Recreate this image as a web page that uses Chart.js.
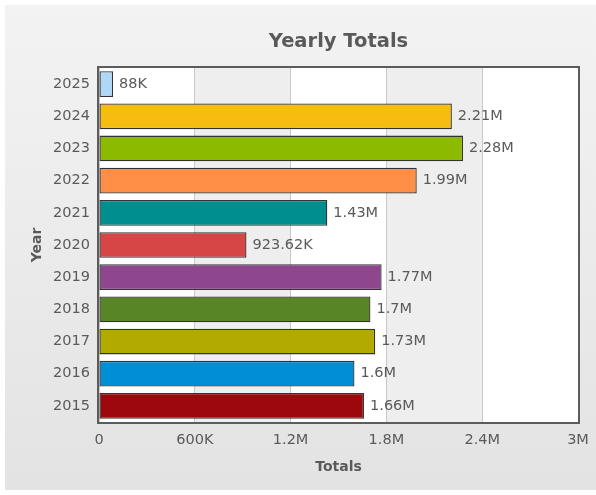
<!DOCTYPE html>
<html>
<head>
<meta charset="utf-8">
<script src="https://cdn.jsdelivr.net/npm/chart.js@4.4.1/dist/chart.umd.min.js"></script>
<style>
  html, body { margin: 0; padding: 0; background: #fff; }
  #wrap {
    position: absolute; left: 5px; top: 5px; width: 591px; height: 485px;
    background: linear-gradient(#f3f3f3, #e3e3e3);
  }
</style>
</head>
<body>
<div id="wrap"><canvas id="myChart"></canvas></div>
<script>
// data
const years = ["2025", "2024", "2023", "2022", "2021", "2020", "2019", "2018", "2017", "2016", "2015"];
const totals = [88000, 2210000, 2280000, 1990000, 1430000, 923620, 1770000, 1700000, 1730000, 1600000, 1660000];
const barColors = ["#AFD8F8", "#F6BD0F", "#8BBA00", "#FF8E46", "#008E8E", "#D64646",
                   "#8E468E", "#588526", "#B3AA00", "#008ED6", "#9D080D"];
const chartTitle = "Yearly Totals";
const xTitle = "Totals";
const yTitle = "Year";

const FONT = "'DejaVu Sans', Verdana, sans-serif";
const TEXT = "#5a5a5a";

function fmt(v) {
  if (v >= 1e6) return +(v / 1e6).toFixed(2) + "M";
  if (v >= 1e3) return +(v / 1e3).toFixed(2) + "K";
  return String(v);
}

// alternating column bands + frame + title + value labels
const decor = {
  id: "decor",
  beforeDraw(chart) {
    const { ctx, chartArea: a, scales: { x } } = chart;
    ctx.save();
    ctx.fillStyle = "#ffffff";
    ctx.fillRect(a.left, a.top, a.right - a.left, a.bottom - a.top);
    ctx.fillStyle = "#eeeeee";
    for (let i = 0; i < x.ticks.length - 1; i++) {
      if (i % 2 === 1) {
        const x0 = x.getPixelForValue(x.ticks[i].value);
        const x1 = x.getPixelForValue(x.ticks[i + 1].value);
        ctx.fillRect(x0, a.top, x1 - x0, a.bottom - a.top);
      }
    }
    ctx.restore();
  },
  afterDatasetsDraw(chart) {
    const { ctx, chartArea: a } = chart;
    ctx.save();
    ctx.font = "14.5px " + FONT;
    ctx.fillStyle = TEXT;
    ctx.textAlign = "left";
    ctx.textBaseline = "middle";
    chart.getDatasetMeta(0).data.forEach((bar, i) => {
      ctx.fillText(fmt(totals[i]), bar.x + 6, bar.y);
    });
    ctx.strokeStyle = "#5c5c5c";
    ctx.lineWidth = 2;
    ctx.strokeRect(a.left - 1, a.top - 1, a.right - a.left + 2, a.bottom - a.top + 2);
    ctx.font = "bold 19.5px " + FONT;
    ctx.textAlign = "center";
    ctx.fillText(chartTitle, (a.left + a.right) / 2, 37);
    ctx.restore();
  }
};

new Chart("myChart", {
  type: "bar",
  data: {
    labels: years,
    datasets: [{
      data: totals,
      backgroundColor: barColors,
      borderColor: "#333333",
      borderWidth: 1.3,
      borderSkipped: false,
      barPercentage: 0.8,
      categoryPercentage: 1
    }]
  },
  options: {
    indexAxis: "y",
    responsive: true,
    maintainAspectRatio: false,
    animation: false,
    layout: { padding: { top: 63, right: 18, bottom: 10, left: 20 } },
    plugins: { legend: { display: false }, tooltip: { enabled: false }, title: { display: false } },
    scales: {
      x: {
        min: 0, max: 3000000,
        afterFit(s) { s.height = 58; s.paddingLeft = 0; s.paddingRight = 0; },
        ticks: { stepSize: 600000, padding: 10, color: TEXT, font: { family: FONT, size: 14.5 },
                 callback: v => fmt(v), maxRotation: 0 },
        grid: { color: "#c8c8c8", drawTicks: false },
        border: { display: false },
        title: { display: true, text: xTitle, color: TEXT, padding: { top: 0, bottom: 4 },
                 font: { family: FONT, size: 14, weight: "bold" } }
      },
      y: {
        afterFit(s) { s.width = 74; s.paddingTop = 0; s.paddingBottom = 0; },
        ticks: { padding: 9, color: TEXT, font: { family: FONT, size: 14.5 } },
        grid: { display: false, drawTicks: false },
        border: { display: false },
        title: { display: true, text: yTitle, color: TEXT, padding: { top: 4, bottom: 0 },
                 font: { family: FONT, size: 14, weight: "bold" } }
      }
    }
  },
  plugins: [decor]
});
</script>
</body>
</html>
